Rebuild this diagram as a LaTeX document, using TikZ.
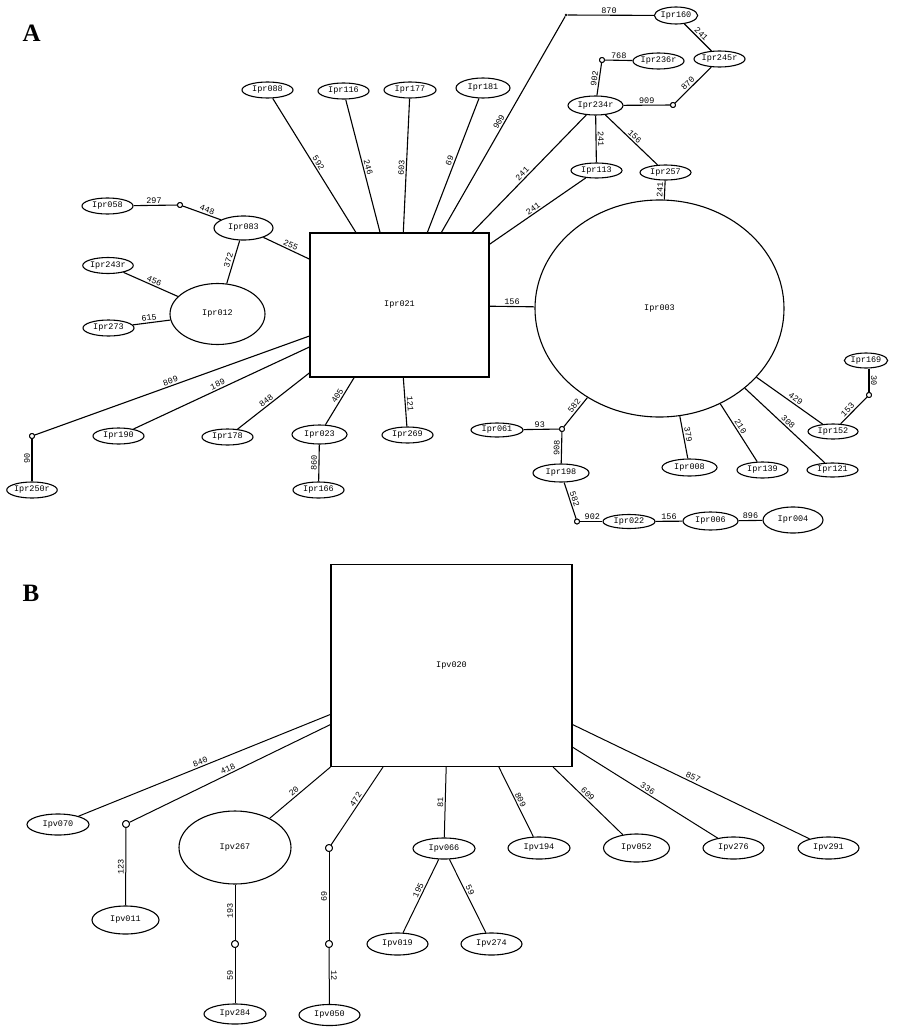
\documentclass[tikz,border=0pt]{standalone}
\usepackage{fontspec}
\setmainfont{Liberation Serif}
\newfontfamily\cour{Liberation Mono}
\usetikzlibrary{shapes.geometric}
\tikzset{
  nf/.style={font=\cour\fontsize{8.5}{9}\selectfont},
  el/.style 2 args={ellipse, draw, line width=1.1pt, inner sep=0pt, minimum width=#1pt, minimum height=#2pt, nf},
  bx/.style 2 args={rectangle, draw, line width=1.1pt, inner sep=0pt, minimum width=#1pt, minimum height=#2pt, nf},
  jn/.style={circle, draw, fill=white, line width=0.9pt, inner sep=0pt, minimum size=5pt},
  jnb/.style={circle, draw, fill=white, line width=0.9pt, inner sep=0pt, minimum size=7pt},
  dotj/.style={circle, fill=black, inner sep=0pt, minimum size=2.8pt},
  lab/.style={nf, sloped, above, inner sep=1.5pt},
  ed/.style={line width=1.1pt},
  edb/.style={line width=1pt},
  panel/.style={font=\bfseries\fontsize{25}{25}\selectfont}
}
\begin{document}
\begin{tikzpicture}[x=1pt,y=-1pt]
\useasboundingbox (0,0) rectangle (900,1033);
% ---------- Panel A ----------
\node[panel] (LA) at (31.7,33) {A};
\node[bx={179}{144}] (A021) at (399.5,305) {Ipr021};
\node[el={249}{217}] (Ipr003) at (659.5,308.5) {Ipr003};
\node[el={95}{61}] (Ipr012) at (217.5,314) {Ipr012};
\node[el={51}{16}] (Ipr088) at (267.5,90) {Ipr088};
\node[el={51}{16}] (Ipr116) at (343.5,91) {Ipr116};
\node[el={52}{16}] (Ipr177) at (410,90) {Ipr177};
\node[el={54}{20}] (Ipr181) at (483,88) {Ipr181};
\node[el={51}{16}] (Ipr058) at (107.5,206) {Ipr058};
\node[el={59}{24}] (Ipr083) at (243.5,228) {Ipr083};
\node[el={50}{16}] (Ipr243r) at (108,265.5) {Ipr243r};
\node[el={51}{16}] (Ipr273) at (108.5,328) {Ipr273};
\node[el={42}{17}] (Ipr160) at (676,15.5) {Ipr160};
\node[el={51}{16}] (Ipr245r) at (719.5,59) {Ipr245r};
\node[el={51}{16}] (Ipr236r) at (658.5,61) {Ipr236r};
\node[el={55}{19}] (Ipr234r) at (595.5,105.5) {Ipr234r};
\node[el={51}{15}] (Ipr113) at (596.5,170.5) {Ipr113};
\node[el={51}{15}] (Ipr257) at (665.5,172.5) {Ipr257};
\node[el={51}{16}] (Ipr190) at (118.5,436) {Ipr190};
\node[el={51}{16}] (Ipr178) at (227.5,437) {Ipr178};
\node[el={55}{19}] (Ipr023) at (319.5,434.5) {Ipr023};
\node[el={51}{16}] (Ipr269) at (407.5,435) {Ipr269};
\node[el={50}{16}] (Ipr250r) at (32,490) {Ipr250r};
\node[el={51}{16}] (Ipr166) at (318.5,490) {Ipr166};
\node[el={42}{15}] (Ipr169) at (866,360.5) {Ipr169};
\node[el={50}{15}] (Ipr152) at (833,431.5) {Ipr152};
\node[el={51}{14}] (Ipr121) at (832.5,470) {Ipr121};
\node[el={51}{16}] (Ipr139) at (762.5,470) {Ipr139};
\node[el={55}{17}] (Ipr008) at (689.5,467.5) {Ipr008};
\node[el={52}{14}] (Ipr061) at (497,430) {Ipr061};
\node[el={56}{18}] (Ipr198) at (561,473) {Ipr198};
\node[el={52}{14}] (Ipr022) at (629,521.5) {Ipr022};
\node[el={55}{18}] (Ipr006) at (710.5,521) {Ipr006};
\node[el={60}{26}] (Ipr004) at (793,520) {Ipr004};
% junctions
\node[jn] (J1) at (180,205) {};
\node[dotj] (J2) at (566,15) {};
\node[jn] (J3) at (673,105) {};
\node[jn] (J4) at (602,60) {};
\node[jn] (J5) at (32,436) {};
\node[jn] (J6) at (562,429) {};
\node[jn] (J7) at (577,521.5) {};
\node[jn] (J8) at (869,395) {};
% edges A
\begin{scope}[ed]
\draw (A021.121.7) -- node[lab,pos=.5]{592} (Ipr088);
\draw (A021.105.2) -- node[lab,pos=.48]{246} (Ipr116);
\draw (A021.87.2) -- node[lab,pos=.48]{603} (Ipr177);
\draw (A021.69.1) -- node[lab,pos=.52]{69} (Ipr181);
\draw (A021.60.6) -- node[lab,pos=.5]{909} (J2);
\draw (J2) -- node[lab,pos=.48]{870} (Ipr160);
\draw (Ipr160) -- node[lab,pos=.5]{241} (Ipr245r);
\draw (Ipr245r) -- node[lab,pos=.55]{870} (J3);
\draw (Ipr234r) -- node[lab,pos=.5]{909} (J3);
\draw (Ipr234r) -- node[lab,pos=.5]{902} (J4);
\draw (J4) -- node[lab,pos=.5]{768} (Ipr236r);
\draw (Ipr234r) -- node[lab,pos=.5]{241} (Ipr113);
\draw (Ipr234r) -- node[lab,pos=.5]{156} (Ipr257);
\draw (Ipr257) -- node[lab,pos=.5]{241} (Ipr003);
\draw (A021.45.6) -- node[lab,pos=.47]{241} (Ipr234r);
\draw (A021.34.7) -- node[lab,pos=.48]{241} (Ipr113);
\draw (A021) -- node[lab,pos=.5]{156} (Ipr003);
\draw (Ipr058) -- node[lab,pos=.47]{297} (J1);
\draw (J1) -- node[lab,pos=.6]{448} (Ipr083);
\draw (Ipr083) -- node[lab,pos=.55]{255} (A021.153.3);
\draw (Ipr083) -- node[lab,pos=.5]{372} (Ipr012);
\draw (Ipr243r) -- node[lab,pos=.53]{456} (Ipr012);
\draw (Ipr273) -- node[lab,pos=.45]{615} (Ipr012);
\draw (A021.199.7) -- node[lab,pos=.5]{809} (J5);
\draw (A021.205.7) -- node[lab,pos=.51]{189} (Ipr190);
\draw (A021.217.6) -- node[lab,pos=.56]{848} (Ipr178);
\draw (A021.238.3) -- node[lab,pos=.44]{405} (Ipr023);
\draw (Ipr250r) -- node[lab,pos=.54]{90} (J5);
\draw (Ipr023) -- node[lab,pos=.5]{860} (Ipr166);
\draw (A021.273.6) -- node[lab,pos=.55]{121} (Ipr269);
\draw (Ipr003) -- node[lab,pos=.4]{582} (J6);
\draw (J6) -- node[lab,pos=.54]{93} (Ipr061);
\draw (Ipr198) -- node[lab,pos=.5]{908} (J6);
\draw (Ipr198) -- node[lab,pos=.5]{582} (J7);
\draw (J7) -- node[lab,pos=.55]{902} (Ipr022);
\draw (Ipr022) -- node[lab,pos=.5]{156} (Ipr006);
\draw (Ipr006) -- node[lab,pos=.5]{896} (Ipr004);
\draw (Ipr003) -- node[lab,pos=.45]{379} (Ipr008);
\draw (Ipr003) -- node[lab,pos=.44]{210} (Ipr139);
\draw (Ipr003) -- node[lab,pos=.5]{308} (Ipr121);
\draw (Ipr003) -- node[lab,pos=.55]{429} (Ipr152);
\draw (Ipr152) -- node[lab,pos=.4]{153} (J8);
\draw (J8 |- Ipr169.south) -- node[lab,pos=.5]{30} (J8);
\end{scope}
% redraw junctions on top
\node[jn] at (J1) {};
\node[jn] at (J3) {};
\node[jn] at (J4) {};
\node[jn] at (J5) {};
\node[jn] at (J6) {};
\node[jn] at (J7) {};
\node[jn] at (J8) {};
% ---------- Panel B ----------
\node[panel] (LB) at (31,593.5) {B};
\node[bx={241}{202}] (V020) at (451.5,665.5) {Ipv020};
\node[el={62}{21}] (Ipv070) at (58,824.5) {Ipv070};
\node[el={67}{28}] (Ipv011) at (125.5,920) {Ipv011};
\node[el={112}{73}] (Ipv267) at (235,847.5) {Ipv267};
\node[el={62}{20}] (Ipv284) at (235,1014) {Ipv284};
\node[el={61}{21}] (Ipv050) at (329.5,1015) {Ipv050};
\node[el={62}{21}] (Ipv066) at (444,848.5) {Ipv066};
\node[el={61}{22}] (Ipv019) at (397.5,944) {Ipv019};
\node[el={61}{22}] (Ipv274) at (491.5,944) {Ipv274};
\node[el={62}{22}] (Ipv194) at (539,848) {Ipv194};
\node[el={66}{28}] (Ipv052) at (636.5,848) {Ipv052};
\node[el={61}{22}] (Ipv276) at (733.5,848) {Ipv276};
\node[el={61}{22}] (Ipv291) at (828.5,848) {Ipv291};
\node[jnb] (K1) at (126,824) {};
\node[jnb] (K2) at (235,944) {};
\node[jnb] (K3) at (329,848) {};
\node[jnb] (K4) at (329,944) {};
\begin{scope}[edb]
\draw (V020.202.5) -- node[lab,pos=.51]{840} (Ipv070);
\draw (V020.206.5) -- node[lab,pos=.5]{418} (K1);
\draw (V020.south west) -- node[lab,pos=.55]{20} (Ipv267);
\draw (V020.236.2) -- node[lab,pos=.45]{472} (K3);
\draw (Ipv011) -- node[lab,pos=.5]{123} (K1);
\draw (K2) -- node[lab,pos=.53]{193} (Ipv267);
\draw (Ipv284) -- node[lab,pos=.5]{59} (K2);
\draw (K4) -- node[lab,pos=.5]{69} (K3);
\draw (Ipv050) -- node[lab,pos=.5]{12} (K4);
\draw (V020.267.9) -- node[lab,pos=.5]{81} (Ipv066);
\draw (Ipv066) -- node[lab,pos=.45]{195} (Ipv019);
\draw (Ipv066) -- node[lab,pos=.45]{59} (Ipv274);
\draw (V020.295.4) -- node[lab,pos=.5]{809} (Ipv194);
\draw (V020.315.2) -- node[lab,pos=.45]{609} (Ipv052);
\draw (V020.326.8) -- node[lab,pos=.5]{336} (Ipv276);
\draw (V020.334.3) -- node[lab,pos=.5]{857} (Ipv291);
\end{scope}
\node[jnb] at (K1) {};
\node[jnb] at (K2) {};
\node[jnb] at (K3) {};
\node[jnb] at (K4) {};
\end{tikzpicture}
\end{document}
